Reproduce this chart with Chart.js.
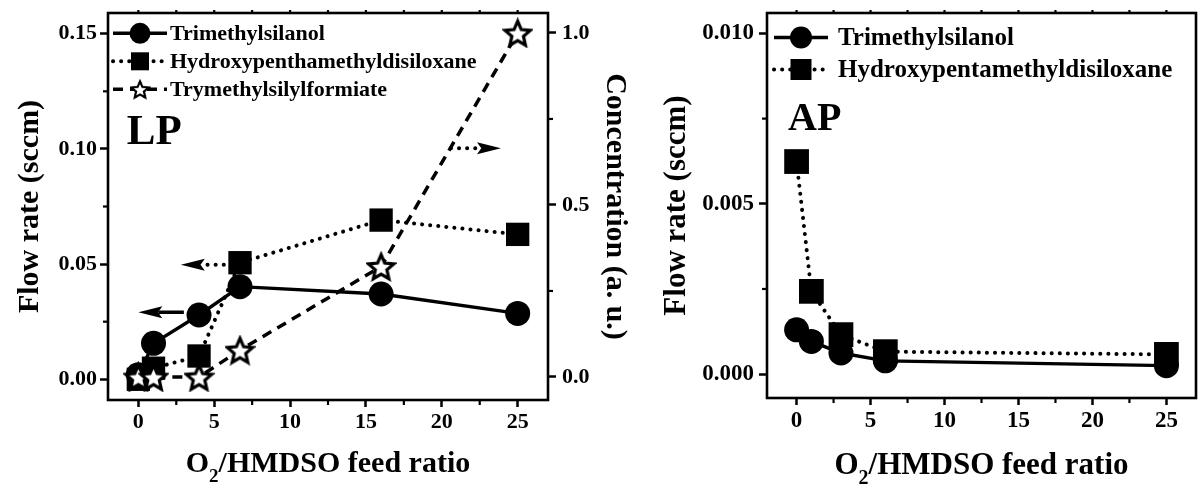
<!DOCTYPE html>
<html><head><meta charset="utf-8">
<script src="https://cdn.jsdelivr.net/npm/chart.js@4"></script>
<style>
html,body{margin:0;padding:0;background:#fff;}
#wrapL{position:absolute;left:0;top:0;width:640px;height:495px;}
#wrapR{position:absolute;left:640px;top:0;width:560px;height:495px;}
canvas{display:block;}
</style></head><body>
<div id="wrapL"><canvas id="cL" width="640" height="495"></canvas></div>
<div id="wrapR"><canvas id="cR" width="560" height="495"></canvas></div>
<script>
// ---------------- data ----------------
const ratioLP = [0, 1, 4, 6.7, 16, 25];
const silanolLP = [0.002, 0.0156, 0.0279, 0.0402, 0.0370, 0.0286];
const disiloxaneLP = [0.0, 0.0048, 0.0101, 0.0506, 0.0691, 0.0629];
const formiateLP = [0.0, 0.0, 0.0, 0.078, 0.321, 1.0];

const ratioAP = [0, 1, 3, 6, 25];
const silanolAP = [0.0013, 0.00096, 0.00062, 0.00039, 0.00025];
const disiloxaneAP = [0.00624, 0.00243, 0.00116, 0.00066, 0.00058];

const namesLP = ['Trimethylsilanol', 'Hydroxypenthamethyldisiloxane', 'Trymethylsilylformiate'];
const namesAP = ['Trimethylsilanol', 'Hydroxypentamethyldisiloxane'];

const xTicks = [0, 5, 10, 15, 20, 25];
const xMinor = [2.5, 7.5, 12.5, 17.5, 22.5];
const flowTicksLP = [0, 0.05, 0.10, 0.15];
const flowMinorLP = [0.025, 0.075, 0.125];
const concTicks = [0, 0.5, 1.0];
const concMinor = [0.25, 0.75];
const flowTicksAP = [0, 0.005, 0.010];
const flowMinorAP = [0.0025, 0.0075];

// arrows in data units of the LP panel (x, flow rate)
const arrowsLP = [
  {from: [3.0, 0.0291], to: [0.0, 0.0291], dotted: false},
  {from: [6.7, 0.0497], to: [2.8, 0.0497], dotted: true},
  {from: [20.6, 0.1003], to: [23.9, 0.1003], dotted: true}
];

// ---------------- helpers ----------------
const FAM = '"Liberation Serif", "Times New Roman", serif';
Chart.defaults.font.family = FAM;
Chart.defaults.font.weight = 'bold';
Chart.defaults.color = '#000';

function makeStar(size, lw) {
  const c = document.createElement('canvas');
  c.width = c.height = size;
  const g = c.getContext('2d');
  const cx = size / 2, R = size / 2 - lw * 0.7, r = R * 0.46;
  g.beginPath();
  for (let i = 0; i < 10; i++) {
    const a = -Math.PI / 2 + i * Math.PI / 5;
    const rr = i % 2 ? r : R;
    g.lineTo(cx + rr * Math.cos(a), cx + 1.5 + rr * Math.sin(a));
  }
  g.closePath();
  g.fillStyle = '#fff'; g.fill();
  g.lineWidth = lw; g.lineJoin = 'miter'; g.strokeStyle = '#000'; g.stroke();
  return c;
}
const starImg = makeStar(31, 3.2);

const DOT = [0.1, 8];
const DASH = [10, 7];

function pts(xs, ys) { return xs.map((x, i) => ({x: x, y: ys[i]})); }

function fixedTicks(arr) { return s => { s.ticks = arr.map(v => ({value: v})); }; }
function fixWidth(w) { return s => { s.width = w; s.paddingTop = 0; s.paddingBottom = 0; }; }

function drawArrow(ctx, x1, y1, x2, y2, dotted) {
  const dx = x2 - x1, dy = y2 - y1, L = Math.hypot(dx, dy);
  const ux = dx / L, uy = dy / L, px = -uy, py = ux;
  const hl = 24, hw = 6;
  const bx = x2 - ux * hl, by = y2 - uy * hl;
  ctx.save();
  ctx.strokeStyle = '#000';
  if (dotted) { ctx.setLineDash(DOT); ctx.lineCap = 'round'; ctx.lineWidth = 4; }
  else { ctx.setLineDash([]); ctx.lineCap = 'butt'; ctx.lineWidth = 3.5; }
  ctx.beginPath(); ctx.moveTo(x1, y1); ctx.lineTo(bx + ux * 4, by + uy * 4); ctx.stroke();
  ctx.setLineDash([]);
  ctx.fillStyle = '#000';
  ctx.beginPath();
  ctx.moveTo(x2, y2);
  ctx.lineTo(bx + px * hw, by + py * hw);
  ctx.lineTo(x2 - ux * hl * 0.82, y2 - uy * hl * 0.82);
  ctx.lineTo(bx - px * hw, by - py * hw);
  ctx.closePath(); ctx.fill();
  ctx.restore();
}

function drawMarker(ctx, style, x, y, size) {
  ctx.fillStyle = '#000';
  if (style === 'circle') { ctx.beginPath(); ctx.arc(x, y, size / 2, 0, Math.PI * 2); ctx.fill(); }
  else if (style === 'rect') { ctx.fillRect(x - size / 2, y - size / 2, size, size); }
  else { ctx.drawImage(starImg, x - size / 2, y - size / 2, size, size); }
}

const decor = {
  id: 'decor',
  beforeDatasetsDraw(chart) {
    const cfg = chart.options.plugins.decor;
    if (!cfg.arrows) return;
    const ctx = chart.ctx, sx = chart.scales.x, sy = chart.scales.y;
    cfg.arrows.forEach(a => drawArrow(ctx,
      sx.getPixelForValue(a.from[0]), sy.getPixelForValue(a.from[1]),
      sx.getPixelForValue(a.to[0]), sy.getPixelForValue(a.to[1]), a.dotted));
  },
  afterDraw(chart) {
    const cfg = chart.options.plugins.decor;
    const ctx = chart.ctx, a = chart.chartArea;
    ctx.save();
    // frame
    ctx.strokeStyle = '#000'; ctx.lineWidth = 2.6; ctx.setLineDash([]);
    ctx.strokeRect(a.left, a.top, a.right - a.left, a.bottom - a.top);
    // minor ticks
    ctx.lineWidth = 2.2;
    cfg.minor.forEach(m => {
      const s = chart.scales[m.id];
      m.values.forEach(v => {
        const p = s.getPixelForValue(v);
        ctx.beginPath();
        if (m.pos === 'left') { ctx.moveTo(a.left, p); ctx.lineTo(a.left - m.len, p); }
        else if (m.pos === 'right') { ctx.moveTo(a.right, p); ctx.lineTo(a.right + m.len, p); }
        else if (m.pos === 'bottom') { ctx.moveTo(p, a.bottom); ctx.lineTo(p, a.bottom + m.len); }
        else { ctx.moveTo(p, a.top); ctx.lineTo(p, a.top - m.len); }
        ctx.stroke();
      });
    });
    // legend
    const lg = cfg.legend;
    chart.data.datasets.forEach((ds, i) => {
      const y = a.top + lg.y0 + i * lg.dy;
      const x0 = a.left + lg.x0, x1 = x0 + lg.len;
      ctx.save();
      ctx.strokeStyle = '#000'; ctx.lineWidth = ds.borderWidth;
      ctx.setLineDash(ds.borderDash || []); ctx.lineCap = ds.borderCapStyle || 'butt';
      ctx.beginPath(); ctx.moveTo(x0, y); ctx.lineTo(x1, y); ctx.stroke();
      ctx.restore();
      const st = typeof ds.pointStyle === 'string' ? ds.pointStyle : 'star';
      drawMarker(ctx, st, (x0 + x1) / 2, y, lg.ms[i]);
      ctx.fillStyle = '#000';
      ctx.font = 'bold ' + lg.size + 'px ' + FAM;
      ctx.textAlign = 'left'; ctx.textBaseline = 'middle';
      ctx.fillText(ds.label, a.left + lg.tx, y + 1);
    });
    // panel label
    ctx.font = 'bold ' + cfg.tag.size + 'px ' + FAM;
    ctx.textAlign = 'left'; ctx.textBaseline = 'alphabetic';
    ctx.fillText(cfg.tag.text, a.left + cfg.tag.dx, a.top + cfg.tag.dy);
    // x title with subscript
    const xt = cfg.xTitle;
    const big = 'bold ' + xt.size + 'px ' + FAM, small = 'bold ' + xt.sub + 'px ' + FAM;
    const parts = [['O', big, 0], ['2', small, xt.subDy], ['/HMDSO feed ratio', big, 0]];
    let w = 0;
    parts.forEach(p => { ctx.font = p[1]; p.w = ctx.measureText(p[0]).width; w += p.w; });
    let x = (a.left + a.right) / 2 - w / 2;
    parts.forEach(p => { ctx.font = p[1]; ctx.fillText(p[0], x, xt.baseline + p[2]); x += p.w; });
    ctx.restore();
  }
};

function xScale(h, fontSize) {
  return {
    type: 'linear', position: 'bottom', min: -2, max: 27,
    afterFit: s => { s.height = h; s.paddingLeft = 0; s.paddingRight = 0; },
    afterBuildTicks: fixedTicks(xTicks),
    ticks: {callback: v => String(v), font: {size: fontSize, weight: 'bold'}, color: '#000', padding: 2, maxRotation: 0, autoSkip: false},
    grid: {drawOnChartArea: false, tickLength: 7, tickWidth: 2.5, tickColor: '#000'},
    border: {display: false}
  };
}

// ---------------- LP chart ----------------
new Chart(document.getElementById('cL'), {
  type: 'line',
  data: {
    datasets: [
      {label: namesLP[0], data: pts(ratioLP, silanolLP), yAxisID: 'y',
       borderColor: '#000', backgroundColor: '#000', borderWidth: 3.4,
       pointStyle: 'circle', pointRadius: 12.5, pointBorderWidth: 0, pointBackgroundColor: '#000', order: 2},
      {label: namesLP[1], data: pts(ratioLP, disiloxaneLP), yAxisID: 'y',
       borderColor: '#000', backgroundColor: '#000', borderWidth: 4, borderDash: DOT, borderCapStyle: 'round',
       pointStyle: 'rect', pointRadius: 16.5, pointBorderWidth: 0, pointBackgroundColor: '#000', order: 1},
      {label: namesLP[2], data: pts(ratioLP, formiateLP), yAxisID: 'y1',
       borderColor: '#000', backgroundColor: '#fff', borderWidth: 3.5, borderDash: DASH,
       pointStyle: starImg, pointRadius: 15, order: 0}
    ]
  },
  options: {
    responsive: false, animation: false, events: [],
    layout: {autoPadding: false, padding: {top: 13, left: 0, right: 0, bottom: 0}},
    scales: {
      x: xScale(95, 22),
      y: {
        type: 'linear', position: 'left', min: -0.009, max: 0.159,
        afterFit: fixWidth(108),
        afterBuildTicks: fixedTicks(flowTicksLP),
        ticks: {callback: v => v.toFixed(2), font: {size: 22, weight: 'bold'}, color: '#000', padding: 3},
        grid: {drawOnChartArea: false, tickLength: 8, tickWidth: 2.5, tickColor: '#000'},
        border: {display: false},
        title: {display: true, text: 'Flow rate (sccm)', color: '#000', font: {size: 30, weight: 'bold', lineHeight: 1}, padding: {top: 15, bottom: 0}}
      },
      y1: {
        type: 'linear', position: 'right', min: -0.067, max: 1.058,
        afterFit: fixWidth(92),
        afterBuildTicks: fixedTicks(concTicks),
        ticks: {callback: v => v.toFixed(1), font: {size: 22, weight: 'bold'}, color: '#000', padding: 6},
        grid: {drawOnChartArea: false, tickLength: 8, tickWidth: 2.5, tickColor: '#000'},
        border: {display: false},
        title: {display: true, text: 'Concentration (a. u.)', color: '#000', font: {size: 30, weight: 'bold', lineHeight: 1}, padding: {top: 10, bottom: 0}}
      }
    },
    plugins: {
      legend: {display: false}, tooltip: {enabled: false},
      decor: {
        arrows: arrowsLP,
        minor: [
          {id: 'x', pos: 'bottom', values: xMinor, len: 5},
          {id: 'x', pos: 'top', values: xTicks.concat(xMinor), len: 3},
          {id: 'y', pos: 'left', values: flowMinorLP, len: 5},
          {id: 'y1', pos: 'right', values: concMinor, len: 5}
        ],
        legend: {x0: 5, len: 54, y0: 20.3, dy: 28, tx: 62, size: 22, ms: [21, 18, 21]},
        tag: {text: 'LP', size: 43, dx: 18.7, dy: 131},
        xTitle: {size: 30, sub: 19, subDy: 10, baseline: 472}
      }
    }
  },
  plugins: [decor]
});

// ---------------- AP chart ----------------
new Chart(document.getElementById('cR'), {
  type: 'line',
  data: {
    datasets: [
      {label: namesAP[0], data: pts(ratioAP, silanolAP), yAxisID: 'y',
       borderColor: '#000', backgroundColor: '#000', borderWidth: 3.4,
       pointStyle: 'circle', pointRadius: 12.5, pointBorderWidth: 0, pointBackgroundColor: '#000', order: 1},
      {label: namesAP[1], data: pts(ratioAP, disiloxaneAP), yAxisID: 'y',
       borderColor: '#000', backgroundColor: '#000', borderWidth: 4, borderDash: DOT, borderCapStyle: 'round',
       pointStyle: 'rect', pointRadius: 17.5, pointBorderWidth: 0, pointBackgroundColor: '#000', order: 2}
    ]
  },
  options: {
    responsive: false, animation: false, events: [],
    layout: {autoPadding: false, padding: {top: 13, left: 0, right: 4, bottom: 0}},
    scales: {
      x: xScale(97, 23),
      y: {
        type: 'linear', position: 'left', min: -0.0007, max: 0.0106,
        afterFit: fixWidth(127),
        afterBuildTicks: fixedTicks(flowTicksAP),
        ticks: {callback: v => v.toFixed(3), font: {size: 23, weight: 'bold'}, color: '#000', padding: 5},
        grid: {drawOnChartArea: false, tickLength: 8, tickWidth: 2.5, tickColor: '#000'},
        border: {display: false},
        title: {display: true, text: 'Flow rate (sccm)', color: '#000', font: {size: 31, weight: 'bold', lineHeight: 1}, padding: {top: 21, bottom: 0}}
      }
    },
    plugins: {
      legend: {display: false}, tooltip: {enabled: false},
      decor: {
        minor: [
          {id: 'x', pos: 'bottom', values: xMinor, len: 5},
          {id: 'x', pos: 'top', values: xTicks.concat(xMinor), len: 3},
          {id: 'y', pos: 'left', values: flowMinorAP, len: 5}
        ],
        legend: {x0: 7, len: 54, y0: 24.5, dy: 32, tx: 71, size: 25, ms: [22, 21]},
        tag: {text: 'AP', size: 40, dx: 21, dy: 117},
        xTitle: {size: 31, sub: 20, subDy: 10, baseline: 474}
      }
    }
  },
  plugins: [decor]
});
</script>
</body></html>
